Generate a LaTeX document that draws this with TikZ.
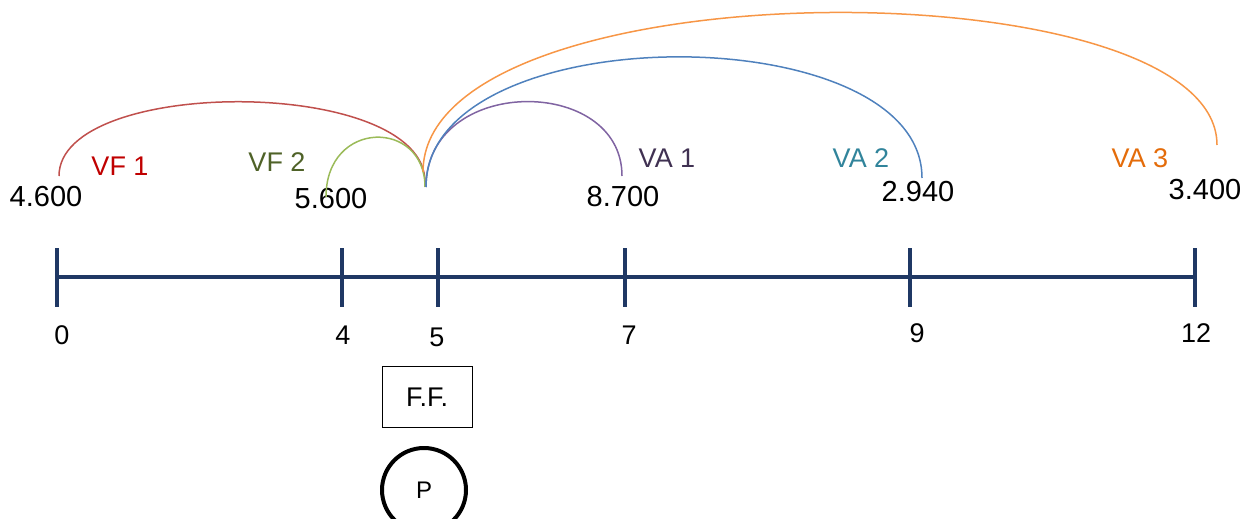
\documentclass[tikz,border=0pt]{standalone}
\usepackage{fontspec}
\setmainfont{Liberation Sans}
\usetikzlibrary{shapes.geometric}
\definecolor{axisc}{HTML}{1F3864}
\definecolor{arcred}{HTML}{C0504D}
\definecolor{arcgreen}{HTML}{9BBB59}
\definecolor{arcpurple}{HTML}{8064A2}
\definecolor{arcblue}{HTML}{4F81BD}
\definecolor{arcorange}{HTML}{F79646}
\definecolor{labred}{HTML}{C00000}
\definecolor{labgreen}{HTML}{4F6228}
\definecolor{labpurple}{HTML}{403152}
\definecolor{labteal}{HTML}{31849B}
\definecolor{laborange}{HTML}{E46C0A}
\begin{document}
\begin{tikzpicture}[x=1pt,y=-1pt,
  txt/.style={inner sep=0pt,font=\fontsize{27}{32}\selectfont},
  valtxt/.style={inner sep=0pt,font=\fontsize{29}{34}\selectfont},
  axisline/.style={draw=axisc,line width=3.5pt},
  arcline/.style={line width=1.5pt},
  tickmark/.style={draw=axisc,line width=3.5pt}]
\useasboundingbox (0,0) rectangle (1255,519);
% axis
\coordinate (a0) at (57,277);
\coordinate (a12) at (1195,277);
\draw[axisline] (a0) -- (a12);
\foreach \n/\x in {t0/57,t4/342,t5/438,t7/625,t9/910,t12/1195}{
  \coordinate (\n top) at (\x,248);
  \coordinate (\n bot) at (\x,307);
  \draw[tickmark] (\n top) -- (\n bot);
}
% tick labels
\node[txt] (l0) at (62,335) {0};
\node[txt] (l4) at (343,335) {4};
\node[txt] (l5) at (437,337) {5};
\node[txt] (l7) at (629,335) {7};
\node[txt] (l9) at (917,333) {9};
\node[txt] (l12) at (1196,333) {12};
% values
\node[valtxt] (v1) at (46,197) {4.600};
\node[valtxt] (v2) at (331,199) {5.600};
\node[valtxt] (v3) at (623,197) {8.700};
\node[valtxt] (v4) at (918,192) {2.940};
\node[valtxt] (v5) at (1205,190) {3.400};
% labels
\node[txt,text=labred] (n1) at (120,166) {VF 1};
\node[txt,text=labgreen] (n2) at (277,162) {VF 2};
\node[txt,text=labpurple] (n3) at (667,158) {VA 1};
\node[txt,text=labteal] (n4) at (861,158) {VA 2};
\node[txt,text=laborange] (n5) at (1140,158) {VA 3};
% arc end points
\coordinate (pRed) at (59,176);
\coordinate (pGreen) at (326,197);
\coordinate (pPurple) at (622,176);
\coordinate (pBlue) at (922,178);
\coordinate (pOrange) at (1217,145);
\coordinate (cRed) at (425,182);
\coordinate (cGreen) at (425,187);
\coordinate (cPurple) at (426,187);
\coordinate (cBlue) at (426,187);
\coordinate (cOrange) at (423,172);
% arcs
\draw[arcline,arcred] (pRed) .. controls (59,76) and (425,76) .. (cRed);
\draw[arcline,arcgreen] (pGreen) .. controls (326,119) and (425,119) .. (cGreen);
\draw[arcline,arcpurple] (cPurple) .. controls (426,75) and (622,75) .. (pPurple);
\draw[arcline,arcblue] (cBlue) .. controls (426,15) and (922,15) .. (pBlue);
\draw[arcline,arcorange] (cOrange) .. controls (423,-36) and (1217,-36) .. (pOrange);
% F.F. box and P circle
\node[txt,draw=black,line width=0.8pt,minimum width=90pt,minimum height=61pt] (ff) at (427,397) {F.F.};
\node[draw=black,line width=4pt,ellipse,minimum width=84pt,minimum height=84pt,inner sep=0pt,font=\fontsize{24}{28}\selectfont] (p) at (424,490) {P};
\end{tikzpicture}
\end{document}
